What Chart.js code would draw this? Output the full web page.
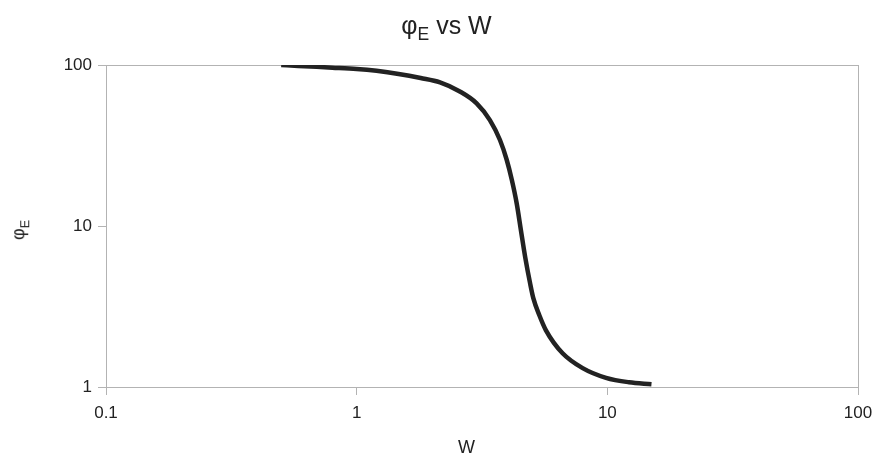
<!DOCTYPE html>
<html lang="en">
<head>
    <meta charset="UTF-8">
    <title>φE vs W</title>
    <script src="https://cdn.jsdelivr.net/npm/chart.js"></script>
    <style>
        body {
            margin: 0;
            background-color: #ffffff;
            font-family: "Liberation Sans", Arial, sans-serif;
        }

        #wrap {
            position: relative;
            width: 877px;
            height: 458px;
        }

        #title {
            position: absolute;
            left: 8px;
            width: 877px;
            top: 11px;
            text-align: center;
            font-size: 25px;
            color: #222;
        }

        #ylabel {
            position: absolute;
            left: 10px;
            top: 230px;
            transform: translate(0, -50%) rotate(-90deg);
            transform-origin: center;
            font-size: 18px;
            color: #222;
        }

        #xlabel {
            position: absolute;
            left: 458px;
            top: 437px;
            font-size: 18px;
            color: #222;
        }

        sub {
            font-size: 0.7em;
        }
    </style>
</head>
<body>
<div id="wrap">
    <canvas id="phiChart" width="877" height="458"></canvas>
    <div id="title">φ<sub>E</sub> vs W</div>
    <div id="ylabel">φ<sub>E</sub></div>
    <div id="xlabel">W</div>
</div>

<script>
    // values
    const wValues = [0.5, 0.585, 0.8, 1.0, 1.2, 1.47, 1.8, 2.15, 2.58, 3.01, 3.4, 3.73, 3.97,
        4.16, 4.35, 4.52, 4.7, 4.92, 5.07, 5.35, 5.69, 6.63, 7.97, 9.88, 12.2, 15];
    const phiValues = [100, 98.6, 96.3, 94.5, 92, 88, 83, 78, 68.5, 57.8, 45.5, 34.2, 25.7,
        19.3, 13.8, 9.44, 6.44, 4.4, 3.55, 2.8, 2.25, 1.62, 1.31, 1.14, 1.07, 1.04];
    const xTicks = [0.1, 1, 10, 100];
    const yTicks = [1, 10, 100];

    const points = wValues.map((w, i) => ({ x: w, y: phiValues[i] }));

    // grey frame around the plot area
    const frame = {
        id: 'frame',
        beforeDatasetsDraw(chart) {
            const a = chart.chartArea;
            const ctx = chart.ctx;
            ctx.save();
            ctx.strokeStyle = '#b3b3b3';
            ctx.lineWidth = 1;
            ctx.strokeRect(a.left + 0.5, a.top + 0.5, a.right - a.left, a.bottom - a.top);
            ctx.restore();
        }
    };

    const tickFont = { family: 'Liberation Sans', size: 17 };

    new Chart(document.getElementById('phiChart'), {
        type: 'line',
        data: {
            datasets: [{
                data: points,
                borderColor: '#222222',
                borderWidth: 4.5,
                pointRadius: 0,
                fill: false,
                cubicInterpolationMode: 'monotone'
            }]
        },
        options: {
            responsive: false,
            animation: false,
            layout: { padding: { top: 65, right: 19, left: 0, bottom: 0 } },
            plugins: {
                legend: { display: false },
                tooltip: { enabled: false }
            },
            scales: {
                x: {
                    type: 'logarithmic',
                    min: 0.1,
                    max: 100,
                    afterBuildTicks: s => { s.ticks = xTicks.map(v => ({ value: v })); },
                    afterFit: s => {
                        s.height = 71;
                        s.paddingLeft = 0;
                        s.paddingRight = 0;
                    },
                    ticks: {
                        color: '#222',
                        font: tickFont,
                        padding: 8,
                        maxRotation: 0,
                        callback: v => String(v)
                    },
                    grid: {
                        drawOnChartArea: false,
                        drawTicks: true,
                        tickLength: 8,
                        color: '#b3b3b3'
                    },
                    border: { color: '#b3b3b3' }
                },
                y: {
                    type: 'logarithmic',
                    min: 1,
                    max: 100,
                    afterBuildTicks: s => { s.ticks = yTicks.map(v => ({ value: v })); },
                    afterFit: s => { s.width = 106; },
                    ticks: {
                        color: '#222',
                        font: tickFont,
                        padding: 6,
                        callback: v => String(v)
                    },
                    grid: {
                        drawOnChartArea: false,
                        drawTicks: true,
                        tickLength: 8,
                        color: '#b3b3b3'
                    },
                    border: { color: '#b3b3b3' }
                }
            }
        },
        plugins: [frame]
    });
</script>
</body>
</html>
